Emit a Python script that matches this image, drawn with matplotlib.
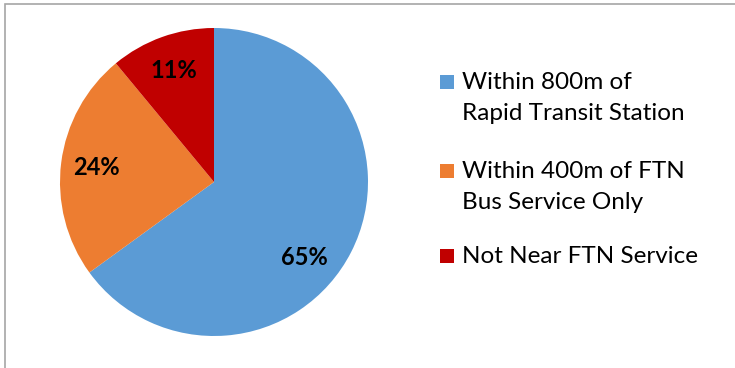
import matplotlib

matplotlib.use("Agg")
import matplotlib.pyplot as plt
from matplotlib.patches import Rectangle

# data
categories = [
    "Within 800m of\nRapid Transit Station",
    "Within 400m of FTN\nBus Service Only",
    "Not Near FTN Service",
]
shares = [65, 24, 11]
colors = ["#5b9bd5", "#ed7d31", "#c00000"]

plt.rcParams["font.family"] = ["Lato", "DejaVu Sans"]

W, H = 735, 368
fig = plt.figure(figsize=(W / 100, H / 100), dpi=100)

# outer chart frame (only left and top edges visible in the crop)
fig.patches.append(
    Rectangle((5 / W, -0.1), 1.2, (H - 4) / H + 0.1, transform=fig.transFigure,
              facecolor="none", edgecolor="#a6a6a6", linewidth=1.2)
)

# pie area: centre (214, 182), radius 154 px
cx, cy, r = 214, 182, 154
ax = fig.add_axes([(cx - r) / W, (H - cy - r) / H, 2 * r / W, 2 * r / H])
wedges, texts, autotexts = ax.pie(
    shares,
    colors=colors,
    startangle=90,
    counterclock=False,
    autopct="%d%%",
    pctdistance=0.77,
    wedgeprops={"linewidth": 0},
    textprops={"fontsize": 17, "fontweight": "bold", "color": "black"},
)
# Excel nudges the biggest label a bit
autotexts[0].set_position((0.59, -0.49))
ax.set_xlim(-1, 1)
ax.set_ylim(-1, 1)
ax.set_aspect("equal")
ax.axis("off")

# legend drawn by hand, Excel style (pixel baselines of first lines)
first_baselines = [89, 178, 263]
line_step = 31
for label, color, base in zip(categories, colors, first_baselines):
    fig.patches.append(
        Rectangle((440 / W, (H - base) / H), 14 / W, 14 / H, transform=fig.transFigure,
                  facecolor=color, edgecolor="none")
    )
    for i, line in enumerate(label.split("\n")):
        fig.text(462 / W, (H - base - i * line_step) / H, line, ha="left",
                 va="baseline", fontsize=17.5, color="black")

fig.savefig("out.png", dpi=100)
